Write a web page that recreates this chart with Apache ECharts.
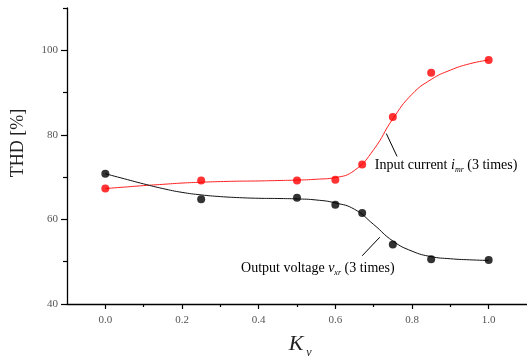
<!DOCTYPE html>
<html><head><meta charset="utf-8">
<script src="https://cdn.jsdelivr.net/npm/echarts@6/dist/echarts.min.js"></script>
<style>html,body{margin:0;padding:0;background:#fff}#c{width:527px;height:360px}</style>
</head><body><div id="c"></div>
<script>
// Measured data points
const kv = [0, 0.25, 0.5, 0.6, 0.67, 0.75, 0.85, 1.0];
const inputCurrent = [67.3, 69.2, 69.2, 69.4, 73.0, 84.2, 94.7, 97.7];
const outputVoltage = [70.8, 64.8, 65.1, 63.5, 61.5, 54.1, 50.6, 50.4];
// Fitted curves
const fitKv = [0, 0.05, 0.1, 0.15, 0.2, 0.25, 0.3, 0.35, 0.4, 0.45, 0.5, 0.55, 0.6, 0.65, 0.7, 0.75, 0.8, 0.85, 0.9, 0.95, 1.0];
const inputFit = [67.3, 67.65, 68.0, 68.3, 68.6, 68.8, 68.95, 69.05, 69.1, 69.2, 69.3, 69.5, 69.9, 71.6, 76.5, 83.8, 89.6, 93.1, 95.3, 96.8, 97.7];
const outputFit = [70.8, 69.6, 68.4, 67.3, 66.4, 65.8, 65.4, 65.15, 65.0, 64.95, 64.85, 64.6, 63.9, 62.4, 58.8, 54.9, 52.5, 51.2, 50.7, 50.45, 50.3];
// Tick labels
const xMajor = [0, 0.2, 0.4, 0.6, 0.8, 1.0];
const xMinor = [0.1, 0.3, 0.5, 0.7, 0.9];
const yMajor = [40, 60, 80, 100];
const yMinor = [50, 70, 90, 110];

const zip = (a, b) => a.map((v, i) => [v, b[i]]);
const serif = '"Liberation Serif","DejaVu Serif",serif';
const chart = echarts.init(document.getElementById('c'), null, {renderer: 'canvas'});

const axisLineStyle = {color: '#000', width: 1.3};
const opt = {
  animation: false,
  backgroundColor: '#fff',
  grid: {left: 67, top: 8, right: 0, bottom: 56, containLabel: false},
  xAxis: [{
    type: 'value', min: -0.1, max: 1.1, position: 'bottom',
    axisLine: {show: true, lineStyle: axisLineStyle, onZero: false},
    axisTick: {show: true, inside: false, length: 5, customValues: xMajor, lineStyle: {color: '#000', width: 1.2}},
    axisLabel: {show: true, customValues: xMajor, formatter: v => v.toFixed(1), margin: 11,
      fontFamily: serif, fontSize: 11, color: '#555'},
    splitLine: {show: false}
  }, {
    type: 'value', min: -0.1, max: 1.1, position: 'bottom',
    axisLine: {show: false, onZero: false},
    axisTick: {show: true, inside: false, length: 3, customValues: xMinor, lineStyle: {color: '#000', width: 1.2}},
    axisLabel: {show: false},
    splitLine: {show: false}
  }],
  yAxis: [{
    type: 'value', min: 40, max: 110, position: 'left',
    axisLine: {show: true, lineStyle: axisLineStyle, onZero: false},
    axisTick: {show: true, inside: false, length: 6, customValues: yMajor, lineStyle: {color: '#000', width: 1.2}},
    axisLabel: {show: true, customValues: yMajor, margin: 9, fontFamily: serif, fontSize: 11, color: '#555'},
    splitLine: {show: false}
  }, {
    type: 'value', min: 40, max: 110, position: 'left',
    axisLine: {show: false, onZero: false},
    axisTick: {show: true, inside: false, length: 4, customValues: yMinor, lineStyle: {color: '#000', width: 1.2}},
    axisLabel: {show: false},
    splitLine: {show: false}
  }],
  series: [
    {type: 'line', data: zip(fitKv, inputFit), smooth: 0.5, showSymbol: false, symbol: 'none',
      lineStyle: {color: '#ff2020', width: 1}, z: 2},
    {type: 'line', data: zip(fitKv, outputFit), smooth: 0.5, showSymbol: false, symbol: 'none',
      lineStyle: {color: '#111', width: 1}, z: 2},
    {type: 'scatter', data: zip(kv, inputCurrent), symbol: 'circle', symbolSize: 8,
      itemStyle: {color: '#ff0000'}, z: 3},
    {type: 'scatter', data: zip(kv, outputVoltage), symbol: 'circle', symbolSize: 8,
      itemStyle: {color: '#000'}, z: 3,
      markLine: {
        silent: true, animation: false, symbol: ['none', 'arrow'], symbolSize: [0, 7],
        label: {show: false}, lineStyle: {color: '#000', width: 1, type: 'solid'},
        data: [
          [{coord: [0.761, 74.9]}, {coord: [0.733, 80.3]}],
          [{coord: [0.670, 51.4]}, {coord: [0.716, 55.8]}]
        ]
      }}
  ]
};
chart.setOption(opt);

const px = (x, y) => chart.convertToPixel({gridIndex: 0}, [x, y]);
const rich = {
  n: {fontFamily: serif, fontSize: 14, color: '#222', lineHeight: 18},
  i: {fontFamily: serif, fontSize: 14, fontStyle: 'italic', color: '#222', lineHeight: 18},
  s: {fontFamily: serif, fontSize: 8, fontStyle: 'italic', color: '#222', padding: [9, 0, 0, 0], lineHeight: 8}
};
const a1 = px(0.703, 72.6);
const a2 = px(0.354, 48.3);
chart.setOption({
  graphic: [
    {type: 'text', left: a1[0], top: a1[1] - 9, style: {text: '{n|Input current }{i|i}{s|mr}{n| (3 times)}', rich: rich}},
    {type: 'text', left: a2[0], top: a2[1] - 9, style: {text: '{n|Output voltage }{i|v}{s|xr}{n| (3 times)}', rich: rich}},
    {type: 'text', x: 18, y: 143, rotation: Math.PI / 2, style: {text: 'THD [%]', fontFamily: serif, fontSize: 18, fill: '#222', align: 'center', verticalAlign: 'middle'}},
    {type: 'text', x: 296, y: 344, style: {text: 'K', fontFamily: serif, fontSize: 22, fontStyle: 'italic', fill: '#222', align: 'center', verticalAlign: 'middle'}},
    {type: 'text', x: 309, y: 353, style: {text: 'v', fontFamily: serif, fontSize: 12, fontStyle: 'italic', fill: '#222', align: 'center', verticalAlign: 'middle'}}
  ]
});
</script>
</body></html>
